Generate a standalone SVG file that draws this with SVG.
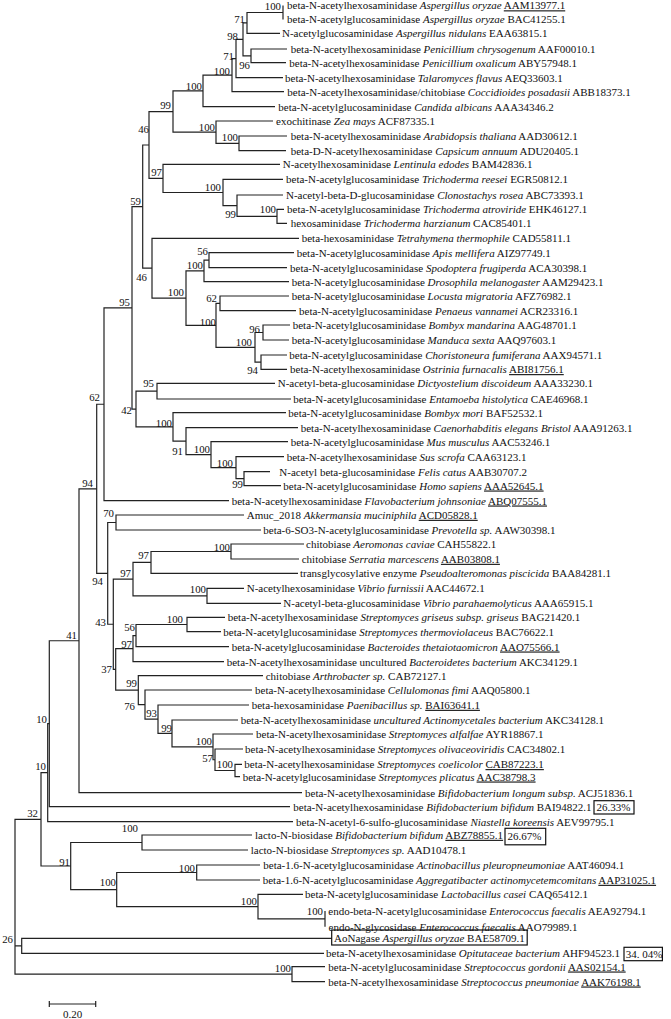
<svg xmlns="http://www.w3.org/2000/svg" width="671" height="1019" viewBox="0 0 671 1019">
<style>
.lf{font-family:"Liberation Serif","Times New Roman",serif;font-size:11px;fill:#111}
.bs{font-family:"Liberation Serif","Times New Roman",serif;font-size:10.8px;fill:#111;text-anchor:end}
.it{font-style:italic}
.u{text-decoration:underline}
.br{fill:none;stroke:#222;stroke-width:1.2}
.box{fill:none;stroke:#111;stroke-width:1.2}
</style>
<rect width="671" height="1019" fill="#fff"/>
<g id="connectors" class="br">
<path d="M283 5.5V19.5"/>
<path d="M283 12.5H247V33.3H280"/>
<path d="M287 49H251V62.7H286"/>
<path d="M247 22.9H243V55.85H251"/>
<path d="M243 39.4H236V77.7H283"/>
<path d="M236 58.55H232V91.7H284"/>
<path d="M232 75.1H203V106.7H275"/>
<path d="M287 136H239V150.7H286"/>
<path d="M273 121H216V143.35H239"/>
<path d="M203 90.9H173V132.2H216"/>
<path d="M284 209.3H277V223.3H287"/>
<path d="M283 195H237V216.3H277"/>
<path d="M283 179.3H223V205.65H237"/>
<path d="M280 164.3H163V192.5H223"/>
<path d="M173 111.55H149V178.4H163"/>
<path d="M294 252.7H209V267.7H287"/>
<path d="M209 260.2H204V281.7H289"/>
<path d="M289 296H220V310.7H296"/>
<path d="M290 325H263V340H289"/>
<path d="M287 355H261V369.3H287"/>
<path d="M263 332.5H255V362.15H261"/>
<path d="M220 303.35H216V347.3H255"/>
<path d="M204 270.95H186V325.3H216"/>
<path d="M299 238.3H152V298.1H186"/>
<path d="M149 145H142.7V268.2H152"/>
<path d="M275 383.3H157V399H291"/>
<path d="M270 471.7H244V485.7H281"/>
<path d="M284 456.7H236V478.7H244"/>
<path d="M288 441.7H211V467.7H236"/>
<path d="M298 427.7H186V454.7H211"/>
<path d="M286 412.7H173V441.2H186"/>
<path d="M157 391.15H136V426.95H173"/>
<path d="M142.7 206.6H132V409.05H136"/>
<path d="M132 307.8H104V500.7H229"/>
<path d="M244 515H116V530H261"/>
<path d="M304 544H231V559H299"/>
<path d="M231 551.5H151V573.3H298"/>
<path d="M244 588.3H207V603.3H281"/>
<path d="M151 562.4H133V595.8H207"/>
<path d="M225 617.3H187V631.7H221"/>
<path d="M187 624.5H136V646.7H229"/>
<path d="M136 635.6H133V661.7H224"/>
<path d="M242 764.3H235V776.7H240"/>
<path d="M243 749H215V770.5H235"/>
<path d="M253 734H213V759.75H215"/>
<path d="M238 720H172V746.9H213"/>
<path d="M249 705H158V733.45H172"/>
<path d="M252 690H145V719.2H158"/>
<path d="M263 675.7H138.3V704.6H145"/>
<path d="M133 648.65H115.7V690.15H138.3"/>
<path d="M133 579.1H113.3V669.4H115.7"/>
<path d="M116 522.5H107.7V624.25H113.3"/>
<path d="M104 404.25H96.7V573.4H107.7"/>
<path d="M96.7 488.8H79V792.7H302"/>
<path d="M79 640.75H49.3V806.7H290"/>
<path d="M49.3 723.7H47.7V821.7H293"/>
<path d="M252 835H142V850H248"/>
<path d="M260 865H196.7V880H260"/>
<path d="M325 911V926.7"/>
<path d="M303 894.3H258V918.85H325"/>
<path d="M196.7 872.5H116.7V906.6H258"/>
<path d="M142 842.5H70.7V889.55H116.7"/>
<path d="M47.7 772.7H41V866H70.7"/>
<path d="M331.7 938.3H21.7V953.3H324"/>
<path d="M325 966.7H292V981.7H325"/>
<path d="M41 819.35H15V974.2H292M15 945.8H21.7"/>
</g>
<g id="bootstrap" class="bs">
<text x="281" y="10">100</text>
<text x="245" y="23">71</text>
<text x="238" y="40">98</text>
<text x="234" y="60">71</text>
<text x="250" y="69">96</text>
<text x="230" y="75">100</text>
<text x="202" y="90">100</text>
<text x="171" y="109">99</text>
<text x="215" y="131">100</text>
<text x="238" y="141">100</text>
<text x="149" y="133">46</text>
<text x="162" y="176">97</text>
<text x="221" y="191">100</text>
<text x="236" y="218">99</text>
<text x="276" y="213">100</text>
<text x="141" y="205">59</text>
<text x="208" y="255">56</text>
<text x="203" y="269">100</text>
<text x="147" y="281">46</text>
<text x="184" y="296">100</text>
<text x="217" y="302">62</text>
<text x="130" y="306">95</text>
<text x="216" y="326">100</text>
<text x="260" y="333">96</text>
<text x="252" y="346">100</text>
<text x="258" y="374">94</text>
<text x="154" y="387">95</text>
<text x="100" y="401">62</text>
<text x="132" y="414">42</text>
<text x="172" y="427">100</text>
<text x="210" y="453">100</text>
<text x="183" y="455">91</text>
<text x="233" y="467">100</text>
<text x="243" y="488">99</text>
<text x="93" y="487">94</text>
<text x="114" y="517">70</text>
<text x="230" y="551">100</text>
<text x="149" y="559">97</text>
<text x="131" y="577">97</text>
<text x="103" y="585">94</text>
<text x="206" y="593">100</text>
<text x="183" y="623">100</text>
<text x="106" y="626">43</text>
<text x="135" y="631">56</text>
<text x="77" y="639">41</text>
<text x="132" y="648">97</text>
<text x="112" y="673">37</text>
<text x="137" y="687">99</text>
<text x="135" y="710">76</text>
<text x="157" y="717">93</text>
<text x="47" y="723">10</text>
<text x="172" y="732">99</text>
<text x="212" y="745">100</text>
<text x="213" y="762">57</text>
<text x="233" y="768">100</text>
<text x="46" y="770">10</text>
<text x="38" y="817">32</text>
<text x="138" y="832">100</text>
<text x="70" y="866">91</text>
<text x="195" y="872">100</text>
<text x="116" y="886">100</text>
<text x="257" y="905">100</text>
<text x="323" y="915">100</text>
<text x="13" y="943">26</text>
<text x="291" y="972">100</text>
</g>
<g id="leaf1"><text class="lf" x="287" y="9.3">beta-N-acetylhexosaminidase <tspan class="it">Aspergillus oryzae</tspan> <tspan class="u">AAM13977.1</tspan></text></g>
<g id="leaf2"><text class="lf" x="287" y="23.3">beta-N-acetylglucosaminidase <tspan class="it">Aspergillus oryzae</tspan> BAC41255.1</text></g>
<g id="leaf3"><text class="lf" x="282" y="37.1">N-acetylglucosaminidase <tspan class="it">Aspergillus nidulans</tspan> EAA63815.1</text></g>
<g id="leaf4"><text class="lf" x="290.7" y="52.8">beta-N-acetylhexosaminidase <tspan class="it">Penicillium chrysogenum</tspan> AAF00010.1</text></g>
<g id="leaf5"><text class="lf" x="289.3" y="66.5">beta-N-acetylhexosaminidase <tspan class="it">Penicillium oxalicum</tspan> ABY57948.1</text></g>
<g id="leaf6"><text class="lf" x="285" y="81.5">beta-N-acetylhexosaminidase <tspan class="it">Talaromyces flavus</tspan> AEQ33603.1</text></g>
<g id="leaf7"><text class="lf" x="287.3" y="95.5">beta-N-acetylhexosaminidase/chitobiase <tspan class="it">Coccidioides posadasii</tspan> ABB18373.1</text></g>
<g id="leaf8"><text class="lf" x="278.3" y="110.5">beta-N-acetylglucosaminidase <tspan class="it">Candida albicans</tspan> AAA34346.2</text></g>
<g id="leaf9"><text class="lf" x="276" y="124.8">exochitinase <tspan class="it">Zea mays</tspan> ACF87335.1</text></g>
<g id="leaf10"><text class="lf" x="290.7" y="139.8">beta-N-acetylhexosaminidase <tspan class="it">Arabidopsis thaliana</tspan> AAD30612.1</text></g>
<g id="leaf11"><text class="lf" x="290.7" y="154.5">beta-D-N-acetylhexosaminidase <tspan class="it">Capsicum annuum</tspan> ADU20405.1</text></g>
<g id="leaf12"><text class="lf" x="282.7" y="168.1">N-acetylhexosaminidase <tspan class="it">Lentinula edodes</tspan> BAM42836.1</text></g>
<g id="leaf13"><text class="lf" x="286" y="183.1">beta-N-acetylglucosaminidase <tspan class="it">Trichoderma reesei</tspan> EGR50812.1</text></g>
<g id="leaf14"><text class="lf" x="286" y="198.8">N-acetyl-beta-D-glucosaminidase <tspan class="it">Clonostachys rosea</tspan> ABC73393.1</text></g>
<g id="leaf15"><text class="lf" x="287" y="213.1">beta-N-acetylglucosaminidase <tspan class="it">Trichoderma atroviride</tspan> EHK46127.1</text></g>
<g id="leaf16"><text class="lf" x="290.7" y="227.1">hexosaminidase <tspan class="it">Trichoderma harzianum</tspan> CAC85401.1</text></g>
<g id="leaf17"><text class="lf" x="301.7" y="242.1">beta-hexosaminidase <tspan class="it">Tetrahymena thermophile</tspan> CAD55811.1</text></g>
<g id="leaf18"><text class="lf" x="296.7" y="256.5">beta-N-acetylglucosaminidase <tspan class="it">Apis mellifera</tspan> AIZ97749.1</text></g>
<g id="leaf19"><text class="lf" x="290" y="271.5">beta-N-acetylglucosaminidase <tspan class="it">Spodoptera frugiperda</tspan> ACA30398.1</text></g>
<g id="leaf20"><text class="lf" x="291.7" y="285.5">beta-N-acetylglucosaminidase <tspan class="it">Drosophila melanogaster</tspan> AAM29423.1</text></g>
<g id="leaf21"><text class="lf" x="291.7" y="299.8">beta-N-acetylglucosaminidase <tspan class="it">Locusta migratoria</tspan> AFZ76982.1</text></g>
<g id="leaf22"><text class="lf" x="299" y="314.5">beta-N-acetylglucosaminidase <tspan class="it">Penaeus vannamei</tspan> ACR23316.1</text></g>
<g id="leaf23"><text class="lf" x="292.7" y="328.8">beta-N-acetylglucosaminidase <tspan class="it">Bombyx mandarina</tspan> AAG48701.1</text></g>
<g id="leaf24"><text class="lf" x="291.7" y="343.8">beta-N-acetylglucosaminidase <tspan class="it">Manduca sexta</tspan> AAQ97603.1</text></g>
<g id="leaf25"><text class="lf" x="289.3" y="358.8">beta-N-acetylglucosaminidase <tspan class="it">Choristoneura fumiferana</tspan> AAX94571.1</text></g>
<g id="leaf26"><text class="lf" x="290" y="373.1">beta-N-acetylhexosaminidase <tspan class="it">Ostrinia furnacalis</tspan> <tspan class="u">ABI81756.1</tspan></text></g>
<g id="leaf27"><text class="lf" x="277.7" y="387.1">N-acetyl-beta-glucosaminidase <tspan class="it">Dictyostelium discoideum</tspan> AAA33230.1</text></g>
<g id="leaf28"><text class="lf" x="293.3" y="402.8">beta-N-acetylglucosaminidase <tspan class="it">Entamoeba histolytica</tspan> CAE46968.1</text></g>
<g id="leaf29"><text class="lf" x="288.3" y="416.5">beta-N-acetylglucosaminidase <tspan class="it">Bombyx mori</tspan> BAF52532.1</text></g>
<g id="leaf30"><text class="lf" x="300.7" y="431.5">beta-N-acetylhexosaminidase <tspan class="it">Caenorhabditis elegans Bristol</tspan> AAA91263.1</text></g>
<g id="leaf31"><text class="lf" x="290.7" y="445.5">beta-N-acetylglucosaminidase <tspan class="it">Mus musculus</tspan> AAC53246.1</text></g>
<g id="leaf32"><text class="lf" x="286.7" y="460.5">beta-N-acetylhexosaminidase <tspan class="it">Sus scrofa</tspan> CAA63123.1</text></g>
<g id="leaf33"><text class="lf" x="279.3" y="475.5">N-acetyl beta-glucosaminidase <tspan class="it">Felis catus</tspan> AAB30707.2</text></g>
<g id="leaf34"><text class="lf" x="283.3" y="489.5">beta-N-acetylglucosaminidase <tspan class="it">Homo sapiens</tspan> <tspan class="u">AAA52645.1</tspan></text></g>
<g id="leaf35"><text class="lf" x="231.7" y="504.5">beta-N-acetylhexosaminidase <tspan class="it">Flavobacterium johnsoniae</tspan> <tspan class="u">ABQ07555.1</tspan></text></g>
<g id="leaf36"><text class="lf" x="246.7" y="518.8">Amuc_2018 <tspan class="it">Akkermansia muciniphila</tspan> <tspan class="u">ACD05828.1</tspan></text></g>
<g id="leaf37"><text class="lf" x="263.3" y="533.8">beta-6-SO3-N-acetylglucosaminidase <tspan class="it">Prevotella sp.</tspan> AAW30398.1</text></g>
<g id="leaf38"><text class="lf" x="306" y="547.8">chitobiase <tspan class="it">Aeromonas caviae</tspan> CAH55822.1</text></g>
<g id="leaf39"><text class="lf" x="301.7" y="562.8">chitobiase <tspan class="it">Serratia marcescens</tspan> <tspan class="u">AAB03808.1</tspan></text></g>
<g id="leaf40"><text class="lf" x="300" y="577.1">transglycosylative enzyme <tspan class="it">Pseudoalteromonas piscicida</tspan> BAA84281.1</text></g>
<g id="leaf41"><text class="lf" x="246.7" y="592.1">N-acetylhexosaminidase <tspan class="it">Vibrio furnissii</tspan> AAC44672.1</text></g>
<g id="leaf42"><text class="lf" x="283.3" y="607.1">N-acetyl-beta-glucosaminidase <tspan class="it">Vibrio parahaemolyticus</tspan> AAA65915.1</text></g>
<g id="leaf43"><text class="lf" x="227.7" y="621.1">beta-N-acetylhexosaminidase <tspan class="it">Streptomyces griseus subsp. griseus</tspan> BAG21420.1</text></g>
<g id="leaf44"><text class="lf" x="223.3" y="635.5">beta-N-acetylglucosaminidase <tspan class="it">Streptomyces thermoviolaceus</tspan> BAC76622.1</text></g>
<g id="leaf45"><text class="lf" x="231.7" y="650.5">beta-N-acetylglucosaminidase <tspan class="it">Bacteroides thetaiotaomicron</tspan> <tspan class="u">AAO75566.1</tspan></text></g>
<g id="leaf46"><text class="lf" x="226.7" y="665.5">beta-N-acetylhexosaminidase uncultured <tspan class="it">Bacteroidetes bacterium</tspan> AKC34129.1</text></g>
<g id="leaf47"><text class="lf" x="265.7" y="679.5">chitobiase <tspan class="it">Arthrobacter sp.</tspan> CAB72127.1</text></g>
<g id="leaf48"><text class="lf" x="255" y="693.8">beta-N-acetylhexosaminidase <tspan class="it">Cellulomonas fimi</tspan> AAQ05800.1</text></g>
<g id="leaf49"><text class="lf" x="251.7" y="708.8">beta-hexosaminidase <tspan class="it">Paenibacillus sp.</tspan> <tspan class="u">BAI63641.1</tspan></text></g>
<g id="leaf50"><text class="lf" x="240.7" y="723.8">beta-N-acetylhexosaminidase <tspan class="it">uncultured Actinomycetales bacterium</tspan> AKC34128.1</text></g>
<g id="leaf51"><text class="lf" x="256" y="737.8">beta-N-acetylhexosaminidase <tspan class="it">Streptomyces alfalfae</tspan> AYR18867.1</text></g>
<g id="leaf52"><text class="lf" x="245" y="752.8">beta-N-acetylhexosaminidase <tspan class="it">Streptomyces olivaceoviridis</tspan> CAC34802.1</text></g>
<g id="leaf53"><text class="lf" x="244.3" y="768.1">beta-N-acetylhexosaminidase <tspan class="it">Streptomyces coelicolor</tspan> <tspan class="u">CAB87223.1</tspan></text></g>
<g id="leaf54"><text class="lf" x="242.7" y="780.5">beta-N-acetylglucosaminidase <tspan class="it">Streptomyces plicatus</tspan> <tspan class="u">AAC38798.3</tspan></text></g>
<g id="leaf55"><text class="lf" x="305" y="796.5">beta-N-acetylhexosaminidase <tspan class="it">Bifidobacterium longum subsp.</tspan> ACJ51836.1</text></g>
<g id="leaf56"><text class="lf" x="293.3" y="810.5">beta-N-acetylhexosaminidase <tspan class="it">Bifidobacterium bifidum</tspan> BAI94822.1</text><rect class="box" x="594" y="800.7" width="40" height="13.3"/><text class="lf" x="596.5" y="810.7">26.33%</text></g>
<g id="leaf57"><text class="lf" x="296" y="825.5">beta-N-acetyl-6-sulfo-glucosaminidase <tspan class="it">Niastella koreensis</tspan> AEV99795.1</text></g>
<g id="leaf58"><text class="lf" x="255" y="838.8">lacto-N-biosidase <tspan class="it">Bifidobacterium bifidum</tspan> <tspan class="u">ABZ78855.1</tspan></text><rect class="box" x="505" y="828.3" width="40.7" height="16.5"/><text class="lf" x="507.5" y="840">26.67%</text></g>
<g id="leaf59"><text class="lf" x="250.7" y="853.8">lacto-N-biosidase <tspan class="it">Streptomyces sp.</tspan> AAD10478.1</text></g>
<g id="leaf60"><text class="lf" x="263.3" y="868.8">beta-1.6-N-acetylglucosaminidase <tspan class="it">Actinobacillus pleuropneumoniae</tspan> AAT46094.1</text></g>
<g id="leaf61"><text class="lf" x="262.7" y="883.8">beta-1.6-N-acetylglucosaminidase <tspan class="it">Aggregatibacter actinomycetemcomitans</tspan> <tspan class="u">AAP31025.1</tspan></text></g>
<g id="leaf62"><text class="lf" x="305" y="898.1">beta-N-acetylglucosaminidase <tspan class="it">Lactobacillus casei</tspan> CAQ65412.1</text></g>
<g id="leaf63"><text class="lf" x="328.3" y="914.8">endo-beta-N-acetylglucosaminidase <tspan class="it">Enterococcus faecalis</tspan> AEA92794.1</text></g>
<g id="leaf64"><text class="lf" x="328.5" y="930.5">endo-N-glycosidase <tspan class="it">Enterococcus faecalis</tspan> AAO79989.1</text></g>
<g id="leaf65"><rect class="box" x="331.7" y="930" width="195.5" height="15"/><text class="lf" x="334" y="942.1">AoNagase <tspan class="it">Aspergillus oryzae</tspan> BAE58709.1</text></g>
<g id="leaf66"><text class="lf" x="326" y="957.1">beta-N-acetylhexosaminidase <tspan class="it">Opitutaceae bacterium</tspan> AHF94523.1</text><rect class="box" x="624" y="947.3" width="38.4" height="13.4"/><text class="lf" x="625.7" y="958">34. 04%</text></g>
<g id="leaf67"><text class="lf" x="328.3" y="970.5">beta-N-acetylglucosaminidase <tspan class="it">Streptococcus gordonii</tspan> <tspan class="u">AAS02154.1</tspan></text></g>
<g id="leaf68"><text class="lf" x="328.3" y="985.5">beta-N-acetylhexosaminidase <tspan class="it">Streptococcus pneumoniae</tspan> <tspan class="u">AAK76198.1</tspan></text></g>
<g id="scale-bar">
<path class="br" d="M49.3 1004H95.7M49.3 1001V1007M95.7 1001V1007"/>
<text class="lf" x="72.5" y="1018" text-anchor="middle">0.20</text>
</g>
</svg>
